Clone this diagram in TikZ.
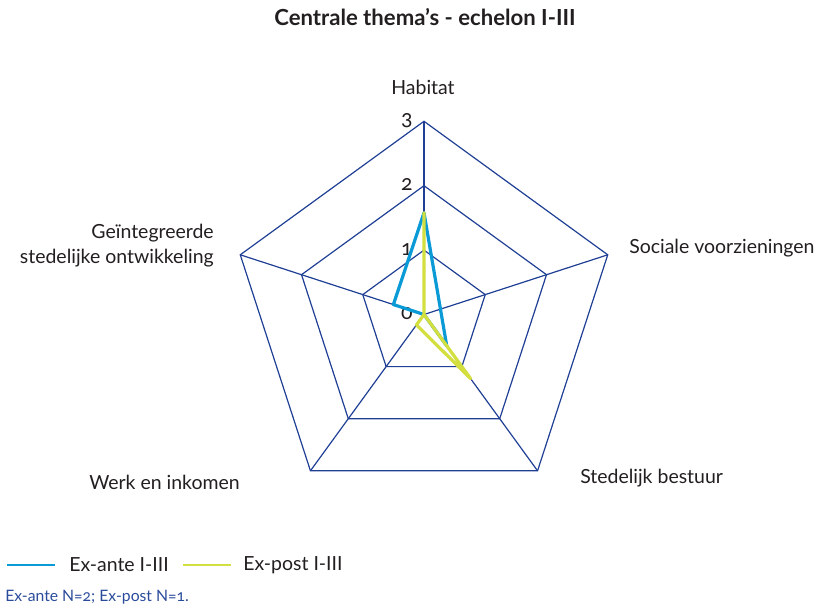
\documentclass[tikz,border=0pt]{standalone}
\usepackage{fontspec}
\setmainfont{Lato}
\definecolor{gridblue}{HTML}{1F3F95}
\definecolor{antecol}{HTML}{0A9BD7}
\definecolor{postcol}{HTML}{D3DE3F}
\definecolor{notecol}{HTML}{2A4B9B}
\definecolor{labelcol}{HTML}{231F20}
\tikzset{
	gridline/.style={draw=gridblue,line width=0.9pt},
	series/.style={line width=2.4pt,line join=round},
	axislabel/.style={font=\fontsize{14.6}{18.75}\selectfont,text=labelcol,inner sep=0pt},
	ticklabel/.style={font=\fontsize{16}{18}\selectfont\addfontfeatures{Numbers=OldStyle},text=labelcol,inner sep=0pt,anchor=east},
}
\begin{document}
\begin{tikzpicture}[x=0.75pt,y=0.75pt]
	\useasboundingbox (0,0) rectangle (818,-611);
	\def\unit{64.4}
	\coordinate (c) at (424,-314.5);
	\node[font=\bfseries\fontsize{16.6}{19}\selectfont,text=labelcol] (title) at (425,-17) {Centrale thema’s - echelon I-III};
	\begin{scope}[shift={(c)}]
		\foreach \k in {1,2,3} {
			\foreach \a/\n in {90/h,18/s,-54/b,-126/w,162/g}
				\coordinate (\n\k) at (\a:\k*\unit);
			\draw[gridline] (h\k) -- (s\k) -- (b\k) -- (w\k) -- (g\k) -- cycle;
		}
		\foreach \n in {h,s,b,w,g}
			\draw[gridline] (c) -- (\n3);
		\foreach \k in {0,1,2,3}
			\node[ticklabel] (t\k) at (-11,\k*\unit+1) {\k};
		\coordinate (a1) at (90:1.58*\unit);
		\coordinate (a3) at (-54:0.6*\unit);
		\coordinate (a5) at (162:0.5*\unit);
		\coordinate (p1) at (90:1.58*\unit);
		\coordinate (p3) at (-54:1.23*\unit);
		\coordinate (p4) at (-126:0.2*\unit);
	\end{scope}
	\draw[series,antecol] (a1) -- (a3) -- (c) -- (a5) -- cycle;
	\draw[series,postcol] (p1) -- (c) -- (p3) -- (p4) -- (c) -- cycle;
	\node[axislabel] (lh) at (423,-87) {Habitat};
	\node[axislabel,anchor=west] (ls) at (629,-248) {Sociale voorzieningen};
	\node[axislabel,anchor=west] (lb) at (580,-478) {Stedelijk bestuur};
	\node[axislabel,anchor=east] (lw) at (240,-482) {Werk en inkomen};
	\node[axislabel,anchor=east,align=right] (lg) at (214,-246) {Geïntegreerde\\stedelijke ontwikkeling};
	\coordinate (la1) at (7,-565);
	\coordinate (la2) at (55,-565);
	\draw[line width=2pt,antecol] (la1) -- (la2);
	\node[axislabel,anchor=west] (lat) at (69,-565) {Ex-ante I-III};
	\coordinate (lp1) at (183,-565);
	\coordinate (lp2) at (231,-565);
	\draw[line width=2pt,postcol] (lp1) -- (lp2);
	\node[axislabel,anchor=west] (lpt) at (243,-565) {Ex-post I-III};
	\node[anchor=west,inner sep=0pt,text=notecol,font=\fontsize{11.8}{14}\selectfont\addfontfeatures{Numbers=OldStyle}] (note) at (5,-597) {Ex-ante N=2; Ex-post N=1.};
\end{tikzpicture}
\end{document}
